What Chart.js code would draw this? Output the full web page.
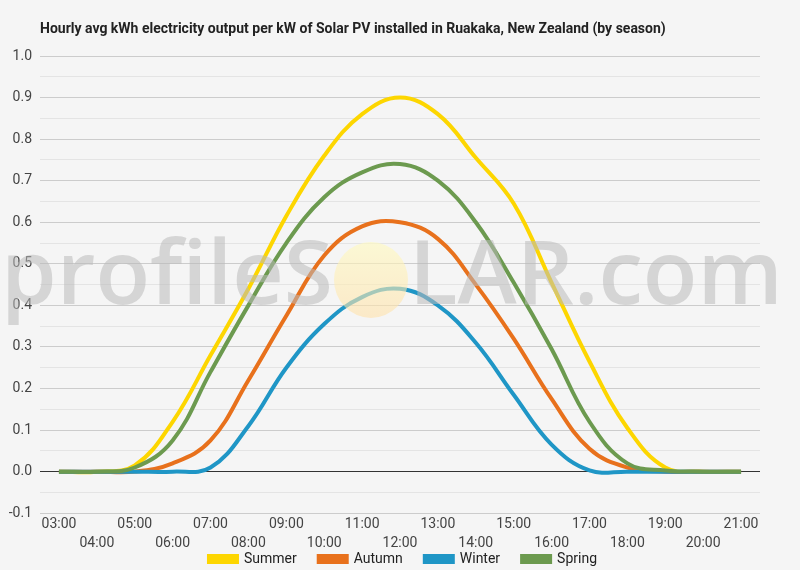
<!DOCTYPE html>
<html lang="en">
<head>
    <meta charset="UTF-8">
    <title>Ruakaka Solar PV output by season</title>
    <style>
        body { margin: 0; background: #f5f5f5; }
        #chart-container { width: 800px; height: 570px; }
    </style>
</head>
<body>
    <div id="chart-container">
        <canvas id="solarChart"></canvas>
    </div>

    <script src="https://cdn.jsdelivr.net/npm/chart.js"></script>
    <script>
        // Hours of the day (x categories)
        const hours = ['03:00', '04:00', '05:00', '06:00', '07:00', '08:00', '09:00', '10:00', '11:00', '12:00',
                       '13:00', '14:00', '15:00', '16:00', '17:00', '18:00', '19:00', '20:00', '21:00'];

        // Avg kWh per kW installed
        const summer = [0, 0, 0.015, 0.12, 0.28, 0.44, 0.615, 0.76, 0.86, 0.90, 0.86, 0.755, 0.645, 0.455, 0.265, 0.105, 0.01, 0, 0];
        const autumn = [0, 0, 0, 0.02, 0.075, 0.22, 0.375, 0.52, 0.59, 0.60, 0.56, 0.45, 0.32, 0.175, 0.055, 0.01, 0, 0, 0];
        const winter = [0, 0, 0, 0, 0.01, 0.11, 0.25, 0.355, 0.42, 0.44, 0.40, 0.31, 0.185, 0.065, 0.003, 0, 0, 0, 0];
        const spring = [0, 0, 0.01, 0.075, 0.24, 0.40, 0.55, 0.66, 0.72, 0.74, 0.70, 0.60, 0.455, 0.295, 0.12, 0.02, 0.003, 0, 0];

        const seasonNames = ['Summer', 'Autumn', 'Winter', 'Spring'];
        const seasonColors = ['#fdd600', '#e8711c', '#1f96c6', '#6c9a4f'];

        const titleText = 'Hourly avg kWh electricity output per kW of Solar PV installed in Ruakaka, New Zealand (by season)';

        // background + title drawn by hand so it lines up with the plot's left edge
        const backdrop = {
            id: 'backdrop',
            beforeDraw(chart) {
                const c = chart.ctx;
                c.save();
                c.fillStyle = '#f5f5f5';
                c.fillRect(0, 0, chart.width, chart.height);
                c.fillStyle = '#222';
                c.font = 'bold 14px Roboto';
                c.textBaseline = 'middle';
                c.fillText(titleText, 40, 29);
                c.restore();
            }
        };

        // legend sits tucked up against the second row of hour labels, centred on the page
        const legendNudge = {
            id: 'legendNudge',
            afterLayout(chart) {
                chart.legend.top -= 25;
                chart.legend.bottom -= 25;
                chart.legend.left += 23;
                chart.legend.right += 23;
            }
        };

        // faint "profileSOLAR.com" watermark with the sun in place of the O
        const watermark = {
            id: 'watermark',
            afterDatasetsDraw(chart) {
                const c = chart.ctx;
                c.save();
                let size = 90;
                c.font = '600 ' + size + 'px "Open Sans"';
                const w = c.measureText('profileS').width;
                size = size * 332 / w;
                c.font = '600 ' + size + 'px "Open Sans"';
                c.fillStyle = 'rgba(185, 185, 185, 0.55)';
                c.textBaseline = 'alphabetic';
                c.textAlign = 'right';
                c.fillText('profileS', 333, 304);
                c.textAlign = 'left';
                c.fillText('LAR.com', 409, 304);

                const g = c.createLinearGradient(0, 242, 0, 318);
                g.addColorStop(0, 'rgba(255, 250, 190, 0.6)');
                g.addColorStop(1, 'rgba(255, 225, 170, 0.6)');
                c.fillStyle = g;
                c.beginPath();
                c.ellipse(371, 280, 37, 38, 0, 0, Math.PI * 2);
                c.fill();
                c.restore();
            }
        };

        const datasets = [summer, autumn, winter, spring].map((values, i) => ({
            label: seasonNames[i],
            data: values,
            borderColor: seasonColors[i],
            backgroundColor: seasonColors[i],
            borderWidth: 4,
            pointRadius: 0,
            tension: 0.4,
            order: 4 - i
        }));

        const ctx = document.getElementById('solarChart').getContext('2d');
        const solarChart = new Chart(ctx, {
            type: 'line',
            data: {
                labels: hours,
                datasets: datasets
            },
            options: {
                responsive: true,
                maintainAspectRatio: false,
                animation: false,
                layout: {
                    padding: { top: 56, right: 40, left: 0, bottom: -31 }
                },
                scales: {
                    x: {
                        offset: true,
                        grid: { display: false, drawTicks: false },
                        border: { display: false },
                        ticks: {
                            autoSkip: false,
                            maxRotation: 0,
                            color: '#444',
                            font: { family: 'Roboto', size: 14, lineHeight: 1.35 },
                            padding: 2,
                            callback: function(value, index) {
                                const label = hours[index];
                                return index % 2 === 0 ? [label, ''] : ['', label];
                            }
                        }
                    },
                    y: {
                        min: -0.1,
                        max: 1.0,
                        afterFit(scale) { scale.width = 40; },
                        border: { display: false },
                        grid: {
                            drawTicks: false,
                            color: function(context) {
                                const v = Math.round(context.tick.value * 100);
                                if (v === 0) return '#333';
                                return v % 10 === 0 ? '#cccccc' : '#e4e4e4';
                            }
                        },
                        ticks: {
                            stepSize: 0.05,
                            autoSkip: false,
                            color: '#444',
                            padding: 8,
                            font: { family: 'Roboto', size: 14 },
                            callback: function(value) {
                                const v = Math.round(value * 100);
                                return v % 10 === 0 ? (v / 100).toFixed(1) : '';
                            }
                        }
                    }
                },
                plugins: {
                    legend: {
                        position: 'bottom',
                        labels: {
                            boxWidth: 28,
                            boxHeight: 6,
                            padding: 22,
                            color: '#222',
                            font: { family: 'Roboto', size: 14 },
                            sort: (a, b) => a.datasetIndex - b.datasetIndex
                        }
                    },
                    tooltip: { enabled: false }
                }
            },
            plugins: [backdrop, legendNudge, watermark]
        });
    </script>
</body>
</html>
